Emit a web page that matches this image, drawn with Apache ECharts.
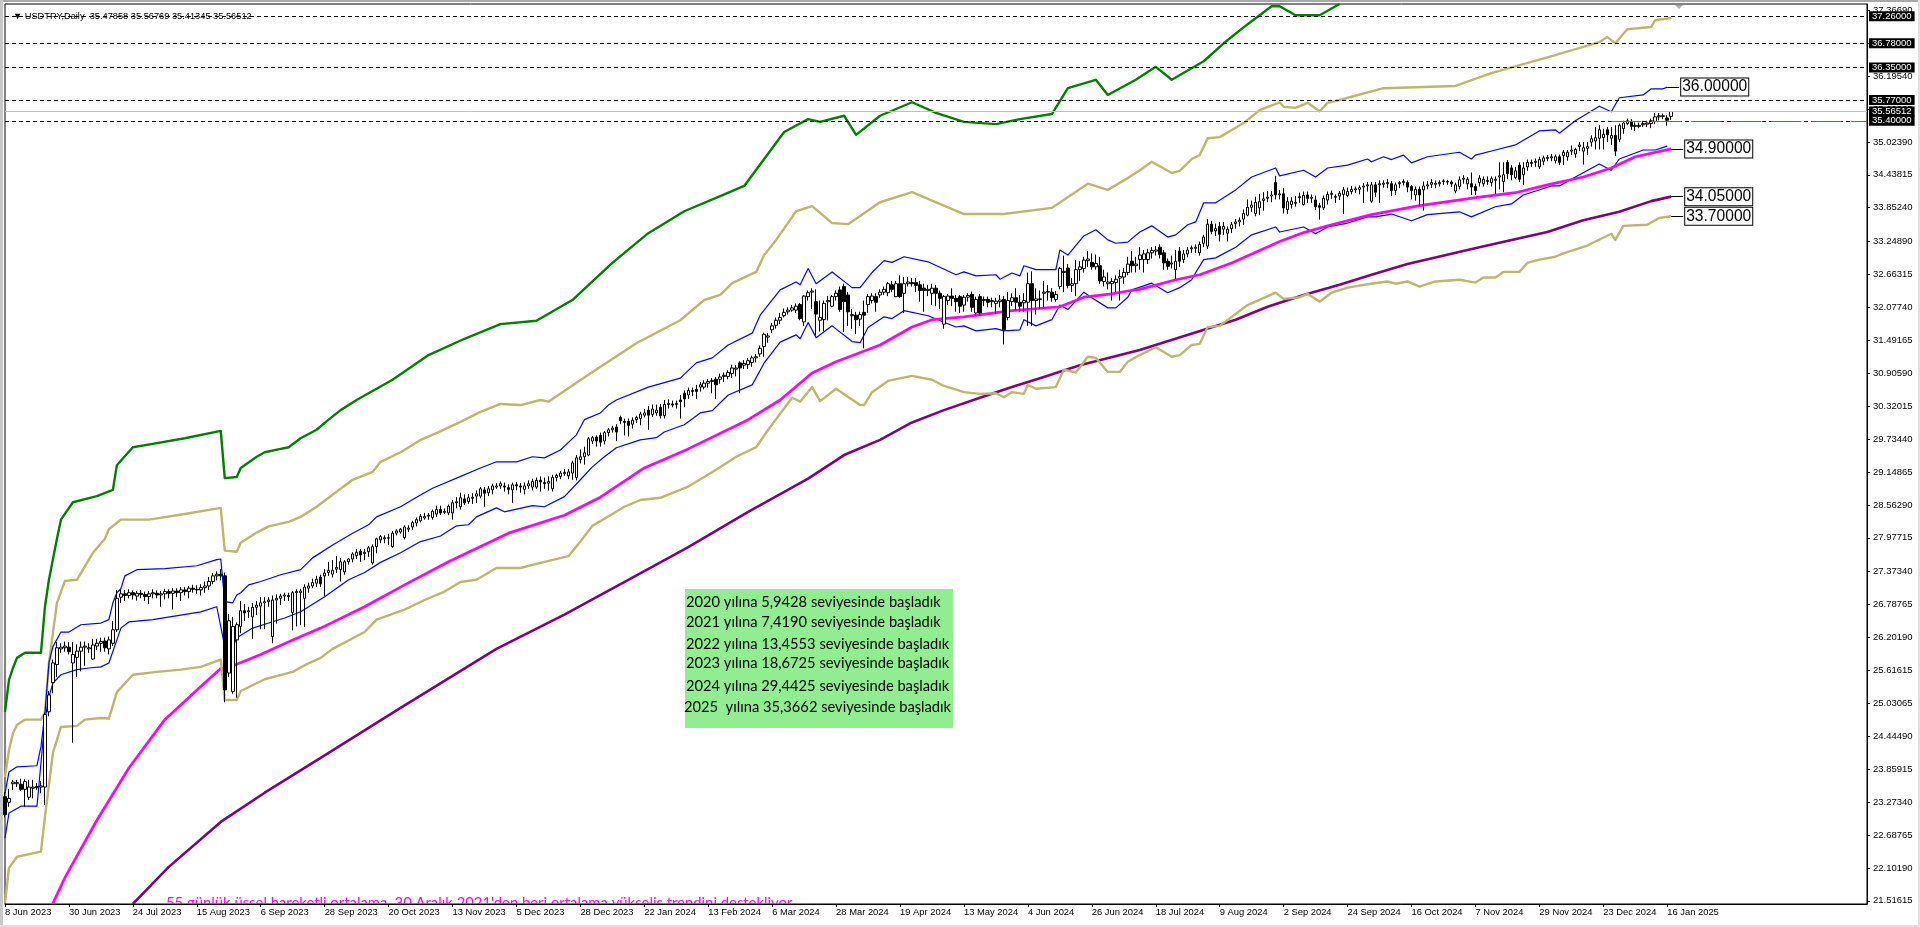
<!DOCTYPE html>
<html><head><meta charset="utf-8">
<script src="https://cdn.jsdelivr.net/npm/echarts@6/dist/echarts.min.js"></script>
<style>html,body{margin:0;padding:0;background:#fff}#c{width:1920px;height:927px}</style></head>
<body><div id="c"></div>
<script>
const dateLabels=["8 Jun 2023","30 Jun 2023","24 Jul 2023","15 Aug 2023","6 Sep 2023","28 Sep 2023","20 Oct 2023","13 Nov 2023","5 Dec 2023","28 Dec 2023","22 Jan 2024","13 Feb 2024","6 Mar 2024","28 Mar 2024","19 Apr 2024","13 May 2024","4 Jun 2024","26 Jun 2024","18 Jul 2024","9 Aug 2024","2 Sep 2024","24 Sep 2024","16 Oct 2024","7 Nov 2024","29 Nov 2024","23 Dec 2024","16 Jan 2025"];
const priceTicks=[37.3669,36.78115,36.1954,35.60965,35.0239,34.43815,33.8524,33.2489,32.66315,32.0774,31.49165,30.9059,30.32015,29.7344,29.14865,28.5629,27.97715,27.3734,26.78765,26.2019,25.61615,25.03065,24.4449,23.85915,23.2734,22.68765,22.1019,21.51615];
const hLevels=[37.26,36.78,36.35,35.77,35.4];
const lastPrice=35.56512;
const infoLines=["2020 yılına 5,9428 seviyesinde başladık","2021 yılına 7,4190 seviyesinde başladık","2022 yılına 13,4553 seviyesinde başladık","2023 yılına 18,6725 seviyesinde başladık","2024 yılına 29,4425 seviyesinde başladık","2025  yılına 35,3662 seviyesinde başladık"];
const footNote="55 günlük üssel hareketli ortalama, 30 Aralık 2021'den beri ortalama yükseliş trendini destekliyor";
// [open, close, low, high]
const candles=[
[23.37,23.05,23.0,23.45],[23.27,23.34,23.19,23.51],[23.6,23.63,23.49,23.67],[23.6,23.62,23.54,23.67],[23.59,23.5,23.47,23.69],[23.5,23.64,23.19,23.68],[23.36,23.54,23.31,23.67],[23.52,23.54,23.34,23.67],[23.53,23.55,23.49,23.61],[23.54,23.56,23.43,23.65],
[23.54,24.83,23.22,24.86],[24.88,25.18,24.8,25.25],[25.4,25.75,25.21,25.81],[25.72,26.02,25.5,26.12],[26.0,26.03,25.93,26.1],[26.02,26.05,25.95,26.13],[26.03,25.95,25.9,26.12],[25.75,25.9,24.33,26.12],[25.85,25.96,25.5,26.08],[25.96,26.03,25.6,26.13],
[26.03,26.05,25.7,26.13],[26.0,26.02,25.93,26.1],[25.82,26.07,25.8,26.18],[26.05,26.1,25.98,26.18],[26.1,26.13,25.95,26.2],[26.14,26.02,25.95,26.2],[26.0,26.16,25.9,26.22],[26.1,26.34,26.05,26.5],[26.34,26.9,26.3,27.05],[26.92,26.98,26.82,27.05],
[26.98,26.95,26.85,27.05],[26.95,27.0,26.9,27.06],[27.0,26.96,26.88,27.04],[26.94,26.99,26.86,27.03],[26.99,26.97,26.9,27.05],[26.97,26.93,26.85,27.02],[26.93,26.98,26.8,27.03],[26.98,27.0,26.9,27.06],[26.99,26.96,26.9,27.04],[26.96,26.98,26.75,27.03],
[26.98,27.02,26.88,27.07],[27.02,26.99,26.9,27.06],[26.99,27.03,26.7,27.08],[27.03,27.0,26.92,27.08],[27.0,27.05,26.85,27.1],[27.05,27.02,26.95,27.1],[27.02,27.08,26.9,27.12],[27.08,27.06,27.0,27.14],[27.06,27.05,26.98,27.13],[27.05,27.09,26.95,27.15],
[27.09,27.12,27.0,27.2],[27.12,27.2,27.05,27.28],[27.2,27.3,27.15,27.35],[27.3,27.33,27.22,27.38],[27.33,27.3,27.22,27.42],[27.3,25.27,25.05,27.36],[25.57,26.5,25.5,26.62],[25.24,26.4,25.2,26.57],[26.16,26.43,25.13,26.47],[26.4,26.68,26.28,26.85],
[26.68,26.64,26.5,26.8],[26.66,26.68,26.55,26.75],[26.57,26.74,26.18,26.82],[26.74,26.78,26.6,26.85],[26.76,26.82,26.35,26.92],[26.82,26.84,26.35,26.92],[26.84,26.87,26.75,26.92],[26.22,26.87,26.1,26.95],[26.87,26.9,26.45,26.97],[26.9,26.94,26.78,26.98],
[26.94,26.96,26.85,27.0],[26.95,26.93,26.85,27.0],[26.65,27.0,26.33,27.03],[27.0,27.02,26.4,27.06],[27.0,27.03,26.42,27.07],[26.9,27.1,26.39,27.15],[27.08,27.12,27.0,27.18],[27.12,27.18,27.08,27.25],[27.17,27.24,27.1,27.3],[27.28,27.16,27.1,27.32],
[27.3,27.35,26.94,27.42],[27.36,27.4,27.3,27.55],[27.33,27.4,27.27,27.58],[27.42,27.45,27.35,27.65],[27.41,27.55,27.2,27.62],[27.37,27.55,27.32,27.58],[27.55,27.6,27.5,27.62],[27.6,27.69,27.54,27.72],[27.66,27.72,27.6,27.78],[27.74,27.67,27.55,27.78],
[27.7,27.72,27.58,27.78],[27.73,27.8,27.64,27.83],[27.53,27.82,27.5,27.86],[27.82,27.96,27.7,27.98],[27.94,28.0,27.88,28.03],[27.96,27.98,27.88,28.02],[27.97,27.98,27.85,28.05],[27.82,28.06,27.8,28.1],[28.06,28.1,28.02,28.13],[28.08,28.13,28.05,28.15],
[27.98,28.17,27.95,28.2],[28.13,28.15,28.08,28.2],[28.17,28.25,28.12,28.28],[28.24,28.3,28.18,28.34],[28.28,28.36,28.25,28.4],[28.33,28.36,28.3,28.42],[28.36,28.38,28.3,28.42],[28.34,28.45,28.3,28.48],[28.4,28.48,28.35,28.55],[28.48,28.42,28.38,28.55],
[28.43,28.45,28.4,28.5],[28.42,28.54,28.38,28.57],[28.42,28.6,28.3,28.65],[28.6,28.62,28.5,28.7],[28.53,28.69,28.48,28.78],[28.67,28.6,28.56,28.75],[28.62,28.69,28.58,28.76],[28.68,28.7,28.58,28.77],[28.72,28.76,28.6,28.82],[28.72,28.85,28.68,28.88],
[28.83,28.77,28.53,28.88],[28.78,28.85,28.72,28.9],[28.83,28.9,28.75,28.94],[28.88,28.9,28.85,28.95],[28.9,28.94,28.85,28.98],[28.9,28.88,28.8,28.96],[28.87,28.84,28.75,28.93],[28.83,28.92,28.6,28.96],[28.92,28.9,28.82,28.97],[28.9,28.88,28.78,28.95],
[28.84,28.9,28.75,28.96],[28.9,28.94,28.85,29.0],[28.88,28.98,28.82,29.03],[28.88,29.0,28.85,29.05],[29.0,28.97,28.8,29.07],[28.96,28.94,28.85,29.05],[28.95,28.98,28.82,29.07],[28.85,29.05,28.8,29.1],[29.05,29.09,28.98,29.12],[29.07,29.13,29.02,29.17],
[29.12,29.14,29.08,29.2],[29.08,29.15,29.02,29.2],[29.13,29.31,29.01,29.35],[29.05,29.4,29.0,29.45],[29.37,29.42,29.3,29.55],[29.42,29.49,29.28,29.6],[29.45,29.74,29.43,29.77],[29.7,29.76,29.65,29.79],[29.77,29.7,29.6,29.8],[29.8,29.68,29.6,29.85],
[29.7,29.85,29.64,29.88],[29.85,29.9,29.78,29.93],[29.9,29.93,29.85,29.97],[29.95,29.86,29.7,30.0],[30.12,30.06,30.0,30.15],[30.03,30.05,29.8,30.1],[30.05,29.98,29.78,30.1],[30.0,30.07,29.92,30.12],[30.08,30.12,30.02,30.15],[30.1,30.18,29.98,30.22],
[30.16,30.2,30.12,30.27],[30.25,30.16,29.9,30.32],[30.17,30.27,30.13,30.35],[30.2,30.25,30.15,30.35],[30.3,30.15,30.1,30.36],[30.15,30.35,30.1,30.43],[30.35,30.37,30.28,30.44],[30.36,30.34,30.3,30.42],[30.35,30.37,30.28,30.42],[30.43,30.4,30.1,30.52],
[30.55,30.45,30.3,30.6],[30.52,30.6,30.45,30.65],[30.58,30.6,30.5,30.65],[30.62,30.58,30.45,30.7],[30.66,30.7,30.58,30.75],[30.66,30.73,30.62,30.78],[30.73,30.76,30.65,30.8],[30.76,30.78,30.55,30.82],[30.8,30.7,30.45,30.84],[30.8,30.84,30.72,30.9],
[30.85,30.87,30.75,30.92],[30.85,30.92,30.8,30.96],[30.9,31.0,30.82,31.06],[30.98,31.0,30.85,31.05],[31.09,31.0,30.55,31.12],[31.05,31.08,30.98,31.14],[31.06,31.13,30.98,31.18],[31.1,31.18,31.02,31.22],[31.18,31.2,31.1,31.25],[31.25,31.35,31.2,31.4],
[31.38,31.6,31.2,31.63],[31.55,31.57,31.45,31.62],[31.68,31.75,31.62,31.8],[31.76,31.85,31.7,31.9],[31.85,31.9,31.78,31.98],[31.93,31.99,31.9,32.06],[32.0,32.03,31.95,32.08],[32.03,32.07,32.0,32.12],[32.03,32.1,31.98,32.15],[32.13,31.88,31.85,32.16],
[31.82,32.28,31.75,32.3],[32.27,32.34,32.2,32.38],[32.35,32.37,32.05,32.42],[32.18,31.96,31.58,32.4],[31.85,31.9,31.65,32.2],[31.86,32.15,31.65,32.2],[32.18,32.2,31.85,32.28],[32.1,32.27,32.08,32.3],[32.27,32.33,32.2,32.38],[32.39,32.04,32.0,32.45],
[32.45,32.18,31.64,32.5],[32.3,32.0,31.75,32.35],[31.93,31.95,31.7,32.05],[31.94,31.86,31.6,32.0],[31.87,31.95,31.75,32.0],[31.99,31.94,31.35,32.2],[32.13,32.27,31.98,32.32],[32.2,32.28,32.15,32.33],[32.27,32.17,32.0,32.33],[32.3,32.35,32.25,32.4],
[32.35,32.4,32.3,32.45],[32.34,32.5,32.28,32.53],[32.48,32.4,32.35,32.55],[32.27,32.5,32.26,32.55],[32.5,32.27,32.25,32.65],[32.33,32.5,31.98,32.62],[32.5,32.53,32.45,32.62],[32.52,32.5,32.45,32.6],[32.52,32.47,32.35,32.6],[32.48,32.38,32.18,32.55],
[32.42,32.38,32.0,32.5],[32.38,32.4,32.28,32.48],[32.33,32.42,32.12,32.5],[32.42,32.33,32.1,32.48],[32.33,32.24,32.05,32.38],[31.78,32.27,31.7,32.3],[32.2,32.28,32.12,32.32],[32.28,32.24,32.1,32.42],[32.24,32.18,32.0,32.3],[32.27,32.1,31.98,32.3],
[32.12,32.26,32.0,32.3],[32.26,32.29,32.18,32.33],[32.31,32.08,32.0,32.36],[31.98,32.22,31.93,32.27],[32.27,31.98,31.93,32.32],[32.2,32.22,32.1,32.27],[32.22,32.17,32.08,32.27],[32.18,32.2,32.08,32.25],[32.15,32.19,31.96,32.25],[32.18,32.21,32.08,32.3],
[32.22,31.68,31.42,32.28],[31.9,32.2,31.85,32.35],[32.18,32.25,32.1,32.33],[32.25,32.17,32.03,32.42],[32.17,32.1,32.0,32.3],[32.16,32.2,32.0,32.33],[32.17,32.5,31.75,32.7],[32.5,32.2,31.75,32.72],[32.2,32.23,31.95,32.42],[32.22,32.23,32.05,32.38],
[32.33,32.35,32.05,32.55],[32.35,32.36,32.2,32.48],[32.35,32.25,32.18,32.42],[32.22,32.31,32.18,32.37],[32.45,32.77,32.4,32.8],[32.7,32.72,32.35,33.0],[32.78,32.47,32.42,32.85],[32.47,32.5,32.35,32.6],[32.5,32.75,32.28,32.92],[32.75,32.8,32.55,32.9],
[32.77,32.92,32.7,32.98],[32.91,32.94,32.8,33.08],[32.88,32.8,32.75,33.04],[32.8,32.86,32.75,33.02],[32.82,32.55,32.5,32.98],[32.54,32.62,32.45,32.75],[32.5,32.53,32.4,32.7],[32.5,32.54,32.2,32.6],[32.52,32.58,32.35,32.65],[32.6,32.63,32.2,32.75],
[32.62,32.7,32.5,32.78],[32.7,32.85,32.65,32.98],[32.9,32.82,32.7,33.08],[32.82,32.85,32.7,32.98],
[32.93,33.01,32.75,33.15],[32.93,33.03,32.7,33.1],[32.93,33.05,32.85,33.12],[33.05,33.09,32.95,33.15],[33.08,33.1,33.0,33.17],[33.15,33.02,32.95,33.2],[33.05,32.87,32.75,33.1],[32.9,32.81,32.75,32.95],[32.85,32.87,32.77,33.0],[32.75,32.9,32.58,33.1],
[33.08,32.9,32.8,33.15],[32.93,33.03,32.87,33.1],[33.03,33.1,32.97,33.15],[33.12,33.14,33.05,33.18],[33.13,33.15,33.05,33.2],[33.05,33.2,33.0,33.25],[33.22,33.33,33.15,33.37],[33.17,33.56,33.12,33.65],[33.56,33.43,33.38,33.62],[33.44,33.48,33.35,33.57],
[33.52,33.38,33.25,33.6],[33.47,33.52,33.37,33.6],[33.4,33.47,33.25,33.52],[33.48,33.55,33.4,33.6],[33.57,33.6,33.48,33.65],[33.6,33.63,33.52,33.68],[33.65,33.75,33.55,33.82],[33.72,33.86,33.7,34.0],[33.86,33.9,33.78,33.98],[33.75,33.95,33.7,34.05],
[33.85,33.96,33.72,34.1],[33.98,34.01,33.8,34.13],[34.02,34.04,33.95,34.15],[34.06,34.08,33.95,34.15],[34.3,34.08,34.0,34.42],[34.08,34.1,34.0,34.17],[34.1,33.85,33.75,34.2],[33.82,33.96,33.74,34.04],[33.91,33.97,33.84,34.04],[33.93,33.95,33.87,34.06],
[34.03,34.05,33.94,34.12],[33.91,34.07,33.89,34.14],[34.08,34.02,33.94,34.14],[34.02,34.04,33.94,34.09],[33.99,33.87,33.81,34.07],[33.89,33.86,33.64,33.94],[33.85,34.02,33.81,34.07],[33.99,34.09,33.91,34.14],[34.09,34.11,34.01,34.16],[34.05,34.04,33.94,34.09],
[34.06,34.11,33.99,34.15],[34.09,34.17,33.74,34.22],[34.07,34.14,34.04,34.21],[34.14,34.18,34.09,34.24],[34.17,34.19,34.12,34.23],[34.18,34.21,34.09,34.25],[34.22,34.24,33.94,34.29],[34.24,34.26,34.14,34.31],[33.97,34.26,33.94,34.31],[34.26,34.13,34.04,34.31],
[34.26,34.28,33.94,34.34],[34.27,34.29,34.21,34.34],[34.28,34.3,34.2,34.36],[34.28,34.16,34.06,34.33],[34.16,34.26,34.08,34.3],[34.28,34.3,34.2,34.33],[34.3,34.32,34.25,34.36],[34.3,34.22,34.13,34.34],[34.23,34.16,34.0,34.26],[34.08,34.18,33.98,34.23],
[34.18,34.08,33.88,34.23],[34.17,34.24,33.8,34.32],[34.24,34.26,34.18,34.33],[34.27,34.3,34.2,34.36],[34.27,34.29,34.2,34.34],[34.28,34.3,34.23,34.34],[34.32,34.33,34.26,34.36],[34.31,34.32,34.26,34.35],[34.31,34.28,34.22,34.34],[34.15,34.26,34.11,34.3],
[34.23,34.35,34.18,34.41],[34.36,34.38,34.28,34.43],[34.28,34.36,34.18,34.4],[34.28,34.22,34.08,34.48],[34.23,34.16,34.08,34.28],[34.3,34.38,34.23,34.43],[34.28,34.36,34.23,34.41],[34.32,34.34,34.26,34.41],[34.3,34.37,34.23,34.41],[34.34,34.36,34.1,34.41],
[34.4,34.42,34.18,34.66],[34.32,34.44,34.13,34.66],[34.66,34.46,34.36,34.7],[34.56,34.44,34.34,34.61],[34.39,34.51,34.36,34.58],[34.61,34.36,34.31,34.66],[34.44,34.56,34.26,34.66],[34.58,34.66,34.51,34.71],[34.64,34.66,34.58,34.71],[34.66,34.68,34.58,34.73],
[34.58,34.71,34.54,34.76],[34.68,34.74,34.61,34.78],[34.73,34.75,34.68,34.79],[34.74,34.76,34.68,34.81],[34.69,34.76,34.64,34.8],[34.76,34.66,34.61,34.8],[34.78,34.84,34.61,34.88],[34.76,34.84,34.69,34.88],[34.86,34.88,34.79,34.96],[34.81,34.89,34.74,34.92],
[34.94,34.97,34.86,35.02],[34.86,34.92,34.62,35.02],[34.91,34.94,34.79,35.02],[35.02,35.08,34.94,35.14],[35.04,35.1,34.89,35.29],[35.09,35.24,34.89,35.32],[35.1,35.16,34.89,35.26],[35.24,35.15,35.02,35.29],[35.09,35.14,34.97,35.29],[35.14,34.86,34.77,35.32],
[35.07,35.32,35.02,35.35],[35.26,35.36,35.17,35.4],[35.35,35.4,35.32,35.44],[35.39,35.3,35.24,35.43],[35.3,35.32,35.22,35.37],[35.3,35.32,35.27,35.37],[35.33,35.35,35.29,35.4],[35.34,35.36,35.29,35.4],[35.35,35.4,35.27,35.44],[35.39,35.47,35.34,35.54],
[35.47,35.49,35.41,35.54],[35.48,35.49,35.43,35.53],[35.45,35.41,35.31,35.5],[35.47858,35.56512,35.41345,35.56769]
];
// [bar index, price]
const greenLine=[[0,24.88],[1,25.45],[2,25.66],[3,25.84],[5,25.93],[9,25.93],[10,26.75],[11,27.23],[13,27.96],[14,28.3],[17,28.61],[23,28.72],[27,28.83],[28,29.27],[32,29.59],[37,29.65],[45,29.75],[54,29.88],[55,29.04],[58,29.06],[59,29.22],[63,29.42],[65,29.5],[69,29.56],[71,29.59],[74,29.75],[78,29.9],[81,30.08],[84,30.25],[88,30.43],[97,30.79],[106,31.23],[115,31.52],[124,31.78],[133,31.84],[142,32.21],[152,32.87],[161,33.4],[170,33.79],[179,34.06],[185,34.24],[190,34.72],[195,35.2],[201,35.43],[204,35.38],[210,35.49],[213,35.15],[219,35.49],[227,35.73],[233,35.54],[240,35.38],[248,35.34],[254,35.43],[262,35.52],[266,35.98],[273,36.13],[276,35.86],[283,36.13],[288,36.36],[292,36.13],[300,36.46],[305,36.78],[311,37.12],[317,37.44],[319,37.44],[323,37.28],[329,37.28],[334,37.48]];
const khakiUpper=[[0,23.72],[1,24.2],[2,24.5],[3,24.65],[5,24.74],[9,24.74],[10,24.86],[11,25.75],[13,26.82],[15,27.21],[18,27.23],[22,27.71],[25,27.96],[26,28.13],[29,28.3],[36,28.3],[45,28.4],[54,28.51],[55,27.75],[58,27.73],[59,27.89],[63,28.07],[66,28.18],[71,28.26],[74,28.35],[78,28.53],[81,28.69],[87,29.01],[92,29.15],[94,29.33],[99,29.5],[104,29.72],[108,29.84],[114,30.04],[119,30.22],[124,30.36],[129,30.34],[134,30.43],[136,30.4],[146,30.88],[158,31.44],[169,31.85],[172,32.03],[175,32.21],[179,32.3],[182,32.51],[188,32.71],[190,33.01],[193,33.28],[198,33.79],[202,33.88],[207,33.58],[211,33.56],[219,33.95],[227,34.13],[240,33.74],[250,33.74],[262,33.85],[271,34.28],[276,34.17],[281,34.38],[284,34.52],[287,34.67],[292,34.47],[294,34.51],[297,34.72],[299,34.79],[301,35.09],[304,35.11],[310,35.36],[314,35.59],[319,35.73],[320,35.65],[323,35.63],[326,35.72],[329,35.57],[331,35.72],[334,35.77],[345,35.98],[363,36.02],[372,36.25],[388,36.57],[399,36.8],[401,36.89],[403,36.78],[406,37.03],[412,37.07],[413,37.19],[417,37.23]];
const khakiLower=[[0,21.48],[1,22.1],[3,22.3],[9,22.39],[10,23.01],[12,24.15],[14,24.61],[18,24.63],[20,24.74],[24,24.77],[26,24.76],[28,25.23],[32,25.54],[38,25.59],[44,25.63],[49,25.68],[54,25.81],[55,25.09],[58,25.09],[59,25.25],[65,25.46],[72,25.59],[75,25.71],[79,25.84],[82,26.0],[90,26.3],[93,26.52],[100,26.7],[105,26.87],[110,27.02],[114,27.19],[118,27.23],[123,27.44],[129,27.44],[134,27.53],[141,27.65],[144,27.91],[147,28.19],[152,28.4],[155,28.53],[159,28.65],[164,28.69],[171,28.89],[178,29.19],[183,29.42],[188,29.59],[191,29.9],[197,30.47],[199,30.4],[202,30.66],[204,30.41],[208,30.63],[214,30.34],[215,30.34],[217,30.57],[221,30.77],[227,30.86],[232,30.79],[235,30.68],[240,30.57],[244,30.54],[248,30.55],[250,30.48],[252,30.57],[255,30.54],[256,30.7],[258,30.63],[263,30.66],[265,30.97],[268,30.92],[271,31.2],[273,31.18],[276,30.93],[279,30.93],[281,31.11],[284,31.23],[288,31.37],[292,31.2],[294,31.23],[297,31.41],[299,31.43],[301,31.73],[304,31.75],[311,32.12],[318,32.34],[320,32.23],[324,32.26],[326,32.32],[329,32.18],[332,32.34],[336,32.43],[341,32.49],[346,32.54],[348,32.5],[351,32.54],[354,32.45],[358,32.54],[364,32.57],[368,32.52],[370,32.61],[373,32.61],[375,32.71],[379,32.71],[381,32.87],[384,32.93],[388,32.98],[390,33.04],[396,33.18],[402,33.39],[403,33.28],[405,33.53],[411,33.55],[414,33.67],[417,33.7]];
const blueUpper=[[0,23.43],[1,23.81],[3,23.9],[8,23.92],[9,24.26],[10,24.86],[11,25.75],[12,26.04],[14,26.3],[16,26.3],[19,26.43],[24,26.46],[26,26.52],[27,26.82],[28,27.0],[29,27.07],[30,27.3],[33,27.41],[40,27.43],[48,27.48],[53,27.59],[54,27.6],[55,26.84],[57,26.82],[58,26.96],[59,27.0],[61,27.14],[64,27.2],[69,27.32],[74,27.41],[77,27.62],[82,27.85],[87,28.06],[91,28.21],[93,28.35],[99,28.53],[103,28.7],[107,28.86],[113,29.04],[119,29.22],[123,29.33],[128,29.33],[132,29.42],[135,29.4],[139,29.54],[143,29.81],[145,30.08],[149,30.2],[151,30.34],[153,30.43],[161,30.66],[169,30.82],[173,31.09],[177,31.18],[181,31.41],[187,31.62],[189,31.94],[194,32.39],[198,32.53],[199,32.48],[201,32.77],[203,32.5],[207,32.71],[212,32.43],[214,32.43],[217,32.7],[220,32.91],[222,32.88],[225,32.98],[231,32.89],[238,32.66],[240,32.71],[243,32.64],[248,32.66],[249,32.58],[252,32.69],[254,32.64],[255,32.82],[258,32.75],[263,32.75],[264,33.1],[266,33.01],[270,33.35],[273,33.46],[276,33.28],[278,33.22],[281,33.24],[284,33.42],[287,33.53],[291,33.33],[293,33.37],[296,33.55],[298,33.6],[300,33.94],[303,33.94],[308,34.17],[312,34.4],[318,34.56],[319,34.42],[325,34.52],[328,34.4],[331,34.56],[336,34.61],[341,34.72],[342,34.67],[345,34.76],[347,34.71],[350,34.79],[352,34.65],[356,34.76],[364,34.84],[367,34.72],[368,34.79],[373,34.88],[378,34.97],[384,35.22],[388,35.24],[389,35.18],[393,35.4],[399,35.66],[402,35.56],[404,35.81],[410,35.86],[412,35.97],[415,35.97],[416,36.0]];
const blueLower=[[0,22.63],[1,23.08],[4,23.2],[8,23.2],[9,23.97],[10,24.74],[11,25.15],[12,25.39],[14,25.54],[18,25.63],[21,25.66],[24,25.68],[26,25.75],[28,26.16],[29,26.37],[31,26.48],[37,26.52],[49,26.66],[53,26.75],[55,26.04],[57,26.02],[58,26.2],[62,26.37],[66,26.46],[70,26.55],[74,26.66],[80,26.93],[86,27.23],[90,27.36],[94,27.54],[99,27.71],[104,27.91],[109,28.01],[113,28.19],[116,28.21],[118,28.35],[123,28.51],[125,28.44],[132,28.55],[135,28.53],[140,28.71],[144,29.01],[147,29.24],[150,29.42],[153,29.58],[159,29.72],[163,29.76],[165,29.86],[170,29.99],[174,30.2],[177,30.24],[181,30.52],[187,30.7],[190,31.09],[194,31.46],[198,31.59],[199,31.52],[201,31.81],[203,31.54],[207,31.75],[212,31.47],[214,31.45],[216,31.72],[220,31.91],[222,31.88],[225,32.02],[231,31.93],[238,31.73],[240,31.75],[243,31.66],[248,31.7],[250,31.66],[254,31.68],[255,31.86],[258,31.75],[262,31.86],[264,32.12],[266,32.04],[270,32.35],[272,32.25],[276,32.07],[278,32.07],[281,32.26],[282,32.39],[287,32.51],[291,32.34],[294,32.43],[297,32.57],[298,32.7],[300,32.93],[303,32.96],[308,33.15],[312,33.37],[318,33.51],[319,33.42],[325,33.51],[328,33.39],[331,33.51],[336,33.58],[341,33.69],[343,33.69],[347,33.74],[352,33.62],[356,33.73],[364,33.78],[367,33.69],[373,33.87],[377,33.92],[380,34.08],[387,34.24],[389,34.24],[393,34.4],[399,34.63],[402,34.52],[404,34.72],[410,34.88],[413,34.88],[416,34.95]];
const magentaLine=[[12,21.47],[15,21.93],[23,22.95],[31,23.88],[40,24.74],[49,25.33],[54,25.65],[56,25.67],[64,25.9],[72,26.16],[79,26.37],[90,26.75],[100,27.14],[111,27.55],[126,28.06],[140,28.38],[149,28.7],[160,29.22],[171,29.56],[186,30.08],[194,30.43],[202,30.91],[208,31.11],[219,31.41],[227,31.73],[232,31.86],[240,31.91],[252,32.02],[264,32.09],[270,32.26],[277,32.32],[281,32.37],[284,32.4],[293,32.57],[299,32.66],[307,32.87],[319,33.25],[325,33.41],[332,33.55],[342,33.73],[354,33.89],[369,34.04],[378,34.12],[386,34.26],[395,34.4],[402,34.56],[408,34.76],[417,34.9]];
const purpleLine=[[32,21.46],[41,22.12],[54,22.92],[65,23.44],[79,24.06],[99,24.95],[123,26.0],[140,26.61],[156,27.23],[171,27.81],[186,28.44],[201,29.03],[210,29.45],[219,29.72],[227,30.03],[235,30.25],[244,30.47],[252,30.66],[260,30.84],[269,31.05],[284,31.32],[308,31.86],[316,32.09],[325,32.3],[334,32.48],[342,32.66],[351,32.85],[369,33.15],[386,33.42],[395,33.63],[404,33.78],[412,33.97],[417,34.05]];

const BAR_SLOTS=467;
const categories=Array.from({length:BAR_SLOTS},(_,i)=>dateLabels[i/16]||'');
const axisFont='"Liberation Sans",Arial,sans-serif';
const tagLabel=(v)=>({formatter:v.toFixed(5),position:'end',distance:2,fontFamily:axisFont,fontSize:15.6,color:'#000',backgroundColor:'#fff',borderColor:'#000',borderWidth:1,padding:[1,1,0,1]});
const tag=(from,to,v)=>({silent:true,symbol:'none',animation:false,lineStyle:{color:'#000',width:1,type:'solid'},emphasis:{disabled:true},
  data:[[{coord:[from,v],label:tagLabel(v)},{coord:[to,v]}]]});
const lineSeries=(name,data,color,width,extra)=>Object.assign({name,type:'line',data,showSymbol:false,symbol:'none',smooth:false,clip:true,silent:true,z:2,lineStyle:{color,width,cap:'butt',join:'round'},itemStyle:{color}},extra||{});
const blackTag=(v,c)=>({yAxis:v,lineStyle:{color:c||'#000',type:c?'solid':[4,3],width:1},label:{show:true,formatter:v.toFixed(5),position:'end',distance:2,color:'#fff',backgroundColor:'#000',fontFamily:axisFont,fontSize:9.5,padding:[1,3,0,3],lineHeight:9}});

const option={
 animation:false,
 backgroundColor:'#fff',
 title:{text:'▼ USDTRY,Daily  35.47858 35.56769 35.41345 35.56512',left:8,top:7,textStyle:{fontFamily:axisFont,fontSize:9.25,fontWeight:'normal',color:'#000'},z:6},
 grid:{left:5,top:4,width:1862,height:900,show:true,borderColor:'#000',borderWidth:1,backgroundColor:'#fff',containLabel:false},
 xAxis:{type:'category',data:categories,boundaryGap:false,z:5,
  axisLine:{show:true,lineStyle:{color:'#000',width:1},onZero:false},
  axisTick:{show:true,interval:(i,name)=>name!=='',length:3,lineStyle:{color:'#000'}},
  axisLabel:{interval:15,align:'left',margin:4,color:'#000',fontFamily:axisFont,fontSize:9.4,showMinLabel:true,showMaxLabel:false},
  splitLine:{show:false}},
 yAxis:{type:'value',position:'right',min:21.459,max:37.479,scale:true,z:5,
  axisLine:{show:true,lineStyle:{color:'#000',width:1}},
  axisTick:{show:true,length:3,lineStyle:{color:'#000'},customValues:priceTicks},
  axisLabel:{color:'#000',margin:6,fontFamily:axisFont,fontSize:9.5,customValues:priceTicks,formatter:v=>v.toFixed(5)},
  splitLine:{show:false}},
 series:[
  lineSeries('green',greenLine,'#008000',2.4),
  lineSeries('khakiUpper',khakiUpper,'#BDB76B',2.4),
  lineSeries('blueUpper',blueUpper,'#0000FF',1.2,{markLine:tag(416,419,36)}),
  lineSeries('blueLower',blueLower,'#0000FF',1.2),
  lineSeries('magenta',magentaLine,'#FF00FF',2.7,{markLine:tag(417,420,34.9)}),
  lineSeries('purple',purpleLine,'#800080',2.6,{markLine:tag(417,420,34.05)}),
  lineSeries('khakiLower',khakiLower,'#BDB76B',2.4,{markLine:tag(417,420,33.7)}),
  {name:'USDTRY',type:'candlestick',data:candles,barWidth:3,z:3,silent:true,clip:true,
   itemStyle:{color:'#fff',color0:'#000',borderColor:'#000',borderColor0:'#000',borderWidth:1},
   markLine:{silent:true,symbol:'none',animation:false,z:6,precision:5,emphasis:{disabled:true},
    data:[
     blackTag(lastPrice,'#c0c0c0'),
     ...hLevels.map(v=>blackTag(v)),
     [{coord:[402,35.4],lineStyle:{color:'#2E8B57',type:[30,10],width:1},label:{show:false}},{coord:[466,35.4]}]
    ]}}
 ],
 graphic:[
  {type:'rect',z:1,shape:{x:685,y:589,width:268,height:139},style:{fill:'#90EE90'}},
  ...infoLines.map((t,i)=>({type:'text',z:2,x:i===5?684:686,y:[602,622,644,663,686,707][i],style:{text:t,fontFamily:'Lato',fontSize:14.7,fill:'#000',verticalAlign:'middle'}})),
  {type:'text',z:1,x:166,y:896,style:{text:footNote,fontFamily:'Lato',fontSize:14.85,fill:'#FF00FF'}},
  {type:'rect',z:3,shape:{x:0,y:905,width:1868,height:22},style:{fill:'#fff'}},
  {type:'polygon',z:6,shape:{points:[[1675,5],[1683,5],[1679,9]]},style:{fill:'#aaa'}},
  {type:'rect',z:7,shape:{x:0,y:0,width:1920,height:2},style:{fill:'#a8a8a8'}},
  {type:'rect',z:7,shape:{x:0,y:0,width:3,height:927},style:{fill:'#c8c8c8'}},
  {type:'rect',z:7,shape:{x:0,y:925,width:1920,height:2},style:{fill:'#e0e0e0'}},
  {type:'rect',z:7,shape:{x:1918,y:0,width:2,height:927},style:{fill:'#e0e0e0'}}
 ]
};
const chart=echarts.init(document.getElementById('c'),null,{renderer:'canvas',width:1920,height:927});
chart.setOption(option);
</script></body></html>
